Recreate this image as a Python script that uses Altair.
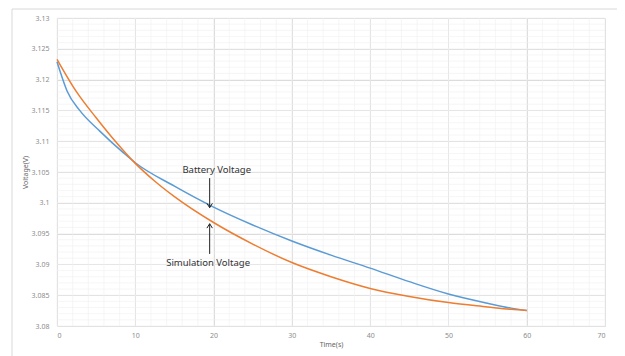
import altair as alt
import pandas as pd

# Time (s)
time_s = [0, 0.4, 1.3, 2.9, 5.5, 8.5, 10, 15, 20, 25, 30, 35, 40, 45, 50, 55, 58, 60]
battery_v = [3.1229, 3.1213, 3.1181, 3.1150, 3.1116, 3.1081, 3.1065, 3.1027, 3.0993, 3.0964,
             3.0938, 3.0915, 3.0894, 3.0872, 3.0852, 3.0837, 3.0829, 3.0825]
sim_x = [0, 2.5, 5, 7.5, 10, 12.5, 15, 20, 25, 30, 35, 40, 45, 50, 55, 58, 60]
simulation_v = [3.1233, 3.1180, 3.1138, 3.1099, 3.1064, 3.1035, 3.1010, 3.0968, 3.0933, 3.0903,
                3.0880, 3.0861, 3.0848, 3.0838, 3.0831, 3.0827, 3.0825]

x_ticks = [0, 10, 20, 30, 40, 50, 60, 70]
y_ticks = [3.08, 3.085, 3.09, 3.095, 3.1, 3.105, 3.11, 3.115, 3.12, 3.125, 3.13]
x_minor = [v for v in range(0, 71, 2)]
y_minor = [round(3.08 + 0.001 * i, 3) for i in range(51)]

ann_x = 19.5
battery_label = "Battery Voltage"
sim_label = "Simulation Voltage"
battery_arrow = [3.1040, 3.0992]
sim_arrow = [3.0917, 3.0966]
battery_text_y = 3.1053
sim_text_y = 3.0902

W, H = 548, 308
xs = alt.Scale(domain=[0, 70], nice=False)
ys = alt.Scale(domain=[3.08, 3.13], nice=False, zero=False)
x_axis = alt.Axis(values=x_ticks, title="Time(s)", grid=True, gridColor="#dcdcdc",
                  ticks=False, domain=False, labelPadding=5, titlePadding=2, labelOverlap=False)
y_axis = alt.Axis(values=y_ticks, format=".4~f", title="Voltage(V)", grid=True,
                  gridColor="#dcdcdc", ticks=False, domain=False, labelPadding=8,
                  titlePadding=3, labelOverlap=False)


def X(f):
    return alt.X(f, type="quantitative", scale=xs, axis=x_axis)


def Y(f):
    return alt.Y(f, type="quantitative", scale=ys, axis=y_axis)


df = pd.concat([
    pd.DataFrame({"t": time_s, "v": battery_v, "s": "Battery"}),
    pd.DataFrame({"t": sim_x, "v": simulation_v, "s": "Simulation"}),
])

grid_col = "#f0f0f0"
minor_x = alt.Chart(pd.DataFrame({"x": x_minor})).mark_rule(color=grid_col, strokeWidth=0.6).encode(
    x=X("x"))
minor_y = alt.Chart(pd.DataFrame({"y": y_minor})).mark_rule(color=grid_col, strokeWidth=0.6).encode(
    y=Y("y"))

lines = alt.Chart(df).mark_line(strokeWidth=1.5, interpolate="monotone").encode(
    x=X("t"),
    y=Y("v"),
    color=alt.Color("s:N", scale=alt.Scale(domain=["Battery", "Simulation"],
                                           range=["#5B9BD5", "#ED7D31"]), legend=None),
    order=alt.Order("t:Q"),
)

arr_df = pd.DataFrame({"x": [ann_x, ann_x], "y1": [battery_arrow[0], sim_arrow[0]],
                       "y2": [battery_arrow[1], sim_arrow[1]]})
arrows = alt.Chart(arr_df).mark_rule(color="#222222", strokeWidth=1).encode(
    x=X("x"), y=Y("y1"), y2="y2:Q")
head_df = pd.DataFrame({"x": [ann_x, ann_x], "y": [battery_arrow[1], sim_arrow[1]],
                        "dir": ["down", "up"]})
heads_down = alt.Chart(head_df[head_df.dir == "down"]).mark_point(
    shape="M-1,-1.6L0,0L1,-1.6", filled=False, color="#222222", size=30, strokeWidth=1, opacity=1).encode(
    x=X("x"), y=Y("y"))
heads_up = alt.Chart(head_df[head_df.dir == "up"]).mark_point(
    shape="M-1,1.6L0,0L1,1.6", filled=False, color="#222222", size=30, strokeWidth=1, opacity=1).encode(
    x=X("x"), y=Y("y"))

txt_df = pd.DataFrame({"x": [ann_x + 0.9, ann_x - 0.2], "y": [battery_text_y, sim_text_y],
                       "t": [battery_label, sim_label]})
texts = alt.Chart(txt_df).mark_text(fontSize=9.5, color="#333333", font="Noto Sans").encode(
    x=X("x"), y=Y("y"), text="t:N")

border = alt.Chart(pd.DataFrame({"a": [0]})).mark_rect(
    fill=None, stroke="#d9d9d9", strokeWidth=1).encode(
    x=alt.value(-45), x2=alt.value(563), y=alt.value(-9), y2=alt.value(345))

chart = alt.layer(border, minor_x, minor_y, lines, arrows, heads_down, heads_up, texts).properties(
    width=W, height=H,
    autosize=alt.AutoSizeParams(type="none"),
    padding={"left": 49, "top": 10, "right": 12, "bottom": 30},
).configure(background="white").configure_view(stroke=None).configure_axis(
    labelFont="Noto Sans", labelFontSize=7, labelColor="#8c8c8c",
    titleFont="Noto Sans", titleFontSize=7, titleColor="#666666", titleFontWeight="normal",
)

chart.save("out.html", embed_options={"renderer": "svg", "actions": False})
